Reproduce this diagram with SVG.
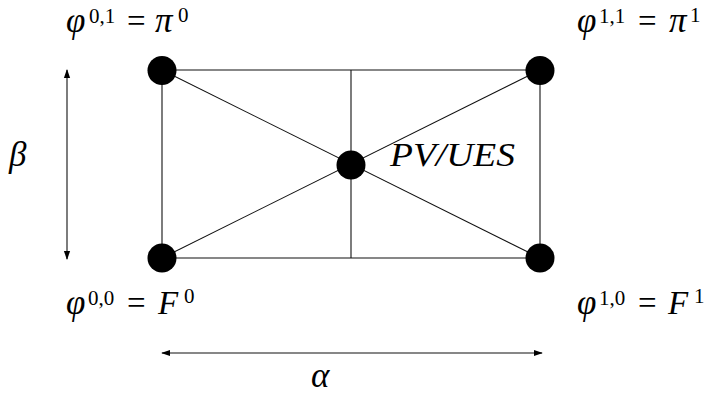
<svg xmlns="http://www.w3.org/2000/svg" width="707" height="394" viewBox="0 0 707 394">
<style>
.ln{stroke:#111;stroke-width:1.1;fill:none}
.nd{fill:#000}
.t{font-family:"Liberation Serif","DejaVu Serif",serif;font-size:33px;fill:#000}
.i{font-style:italic}
.g{font-size:35px}
.s{font-size:21px}
</style>
<defs>
<marker id="ah" viewBox="0 0 10 10" refX="9" refY="5" markerWidth="9" markerHeight="9" markerUnits="userSpaceOnUse" orient="auto-start-reverse">
<path d="M0,1.5 L10,5 L0,8.5 Z" fill="#000"/>
</marker>
</defs>
<rect width="707" height="394" fill="#fff"/>
<g id="connectors">
<line class="ln" x1="162" y1="70" x2="540" y2="70"/>
<line class="ln" x1="162" y1="258" x2="540" y2="258"/>
<line class="ln" x1="162" y1="70" x2="162" y2="258"/>
<line class="ln" x1="540" y1="70" x2="540" y2="258"/>
<line class="ln" x1="351" y1="70" x2="351" y2="258"/>
<line class="ln" x1="162" y1="70" x2="540" y2="258"/>
<line class="ln" x1="540" y1="70" x2="162" y2="258"/>
<line class="ln" x1="67" y1="70" x2="67" y2="259" marker-start="url(#ah)" marker-end="url(#ah)"/>
<line class="ln" x1="162" y1="353" x2="542" y2="353" marker-start="url(#ah)" marker-end="url(#ah)"/>
</g>
<g id="n01"><circle class="nd" cx="162" cy="70.5" r="14.5"/>
<text class="t"><tspan class="i g" x="66" y="32">φ</tspan><tspan class="s" x="89" y="23">0,1</tspan><tspan x="127" y="32">=</tspan><tspan class="i g" x="155" y="32">π</tspan><tspan class="s" x="178" y="22">0</tspan></text></g>
<g id="n11"><circle class="nd" cx="540" cy="70.5" r="14.5"/>
<text class="t"><tspan class="i g" x="577" y="32">φ</tspan><tspan class="s" x="599" y="23">1,1</tspan><tspan x="638" y="32">=</tspan><tspan class="i g" x="669" y="32">π</tspan><tspan class="s" x="690" y="22">1</tspan></text></g>
<g id="n00"><circle class="nd" cx="162" cy="258" r="14.5"/>
<text class="t"><tspan class="i g" x="66" y="314">φ</tspan><tspan class="s" x="88" y="305">0,0</tspan><tspan x="127" y="314">=</tspan><tspan class="i" x="158" y="314">F</tspan><tspan class="s" x="184" y="303">0</tspan></text></g>
<g id="n10"><circle class="nd" cx="540" cy="258" r="14.5"/>
<text class="t"><tspan class="i g" x="577" y="314">φ</tspan><tspan class="s" x="599" y="305">1,0</tspan><tspan x="638" y="314">=</tspan><tspan class="i" x="668" y="314">F</tspan><tspan class="s" x="694" y="303">1</tspan></text></g>
<g id="center"><circle class="nd" cx="351" cy="165" r="14.5"/>
<text class="t i" x="390" y="166" textLength="125" lengthAdjust="spacingAndGlyphs">PV/UES</text></g>
<text class="t i g" x="9" y="166">β</text>
<text class="t i g" x="311" y="387">α</text>
</svg>
